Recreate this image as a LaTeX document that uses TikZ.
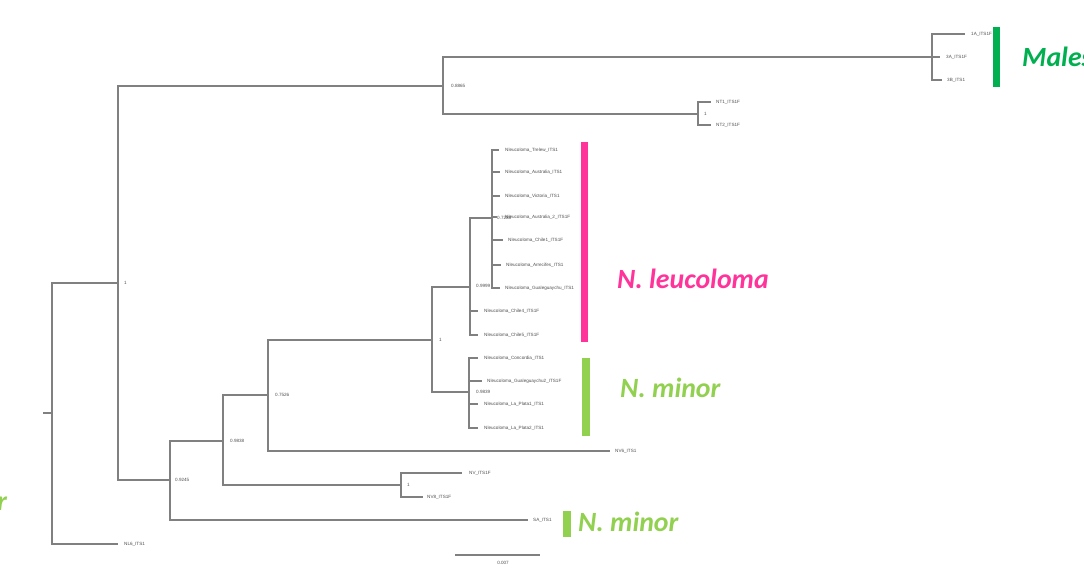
\documentclass[tikz,border=0pt]{standalone}
\usepackage{fontspec}
\setsansfont{Liberation Sans}
\newfontfamily\bigfont{Carlito}
\definecolor{brgray}{RGB}{128,128,128}
\definecolor{txgray}{RGB}{80,80,80}
\definecolor{hotpink}{RGB}{255,51,153}
\definecolor{darkgrn}{RGB}{0,176,80}
\definecolor{litegrn}{RGB}{146,208,80}
\tikzset{
  br/.style={draw=brgray, line width=1.1pt},
  leaf/.style={anchor=west, inner sep=0pt, text=txgray, font=\sffamily\fontsize{4.6}{5}\selectfont},
  nlab/.style={anchor=west, inner sep=0pt, text=txgray, font=\sffamily\fontsize{4.6}{5}\selectfont},
  big/.style={anchor=base west, inner sep=0pt, font=\bigfont\bfseries\itshape\fontsize{27.8}{30}\selectfont}
}
\begin{document}
\begin{tikzpicture}[x=1pt,y=-1pt]
\useasboundingbox (0,0) rectangle (1084,585);
\clip (0,0) rectangle (1084,585);
\fill[white] (0,0) rectangle (1084,585);
% internal nodes
\coordinate (rs) at (43,413);
\coordinate (r) at (52,413);
\coordinate (n1) at (118,283);
\coordinate (n2) at (443,86);
\coordinate (nM) at (932,57);
\coordinate (nT) at (698,114);
\coordinate (n3) at (170,480);
\coordinate (n4) at (223,441);
\coordinate (n5) at (268,395);
\coordinate (n6) at (432,340);
\coordinate (n7) at (470,287);
\coordinate (n8) at (492,218);
\coordinate (n9) at (469,392);
\coordinate (nV) at (401,485);
% tips
\coordinate (tNL6) at (118,544);
\coordinate (t1A) at (965,34);
\coordinate (t3A) at (940,57);
\coordinate (t3B) at (942,80);
\coordinate (tNT1) at (711,102);
\coordinate (tNT2) at (711,125);
\coordinate (tTre) at (499,150);
\coordinate (tAus) at (500,172);
\coordinate (tVic) at (500,196);
\coordinate (tAu2) at (497,217);
\coordinate (tCh1) at (503,240);
\coordinate (tArr) at (501,265);
\coordinate (tGua) at (500,288);
\coordinate (tCh4) at (478,311);
\coordinate (tCh5) at (478,335);
\coordinate (tCon) at (478,358);
\coordinate (tGu2) at (482,381);
\coordinate (tLP1) at (478,404);
\coordinate (tLP2) at (478,428);
\coordinate (tNV6) at (610,451);
\coordinate (tNV) at (462,473);
\coordinate (tNV8) at (423,497);
\coordinate (tSA) at (528,520);
% branches
\draw[br] (rs) -- (r);
\draw[br] (r) |- (n1);
\draw[br] (r) |- (tNL6);
\draw[br] (n1) |- (n2);
\draw[br] (n1) |- (n3);
\draw[br] (n2) |- (nM);
\draw[br] (n2) |- (nT);
\draw[br] (nM) |- (t1A);
\draw[br] (nM) |- (t3A);
\draw[br] (nM) |- (t3B);
\draw[br] (nT) |- (tNT1);
\draw[br] (nT) |- (tNT2);
\draw[br] (n3) |- (n4);
\draw[br] (n3) |- (tSA);
\draw[br] (n4) |- (n5);
\draw[br] (n4) |- (nV);
\draw[br] (nV) |- (tNV);
\draw[br] (nV) |- (tNV8);
\draw[br] (n5) |- (n6);
\draw[br] (n5) |- (tNV6);
\draw[br] (n6) |- (n7);
\draw[br] (n6) |- (n9);
\draw[br] (n7) |- (n8);
\draw[br] (n7) |- (tCh4);
\draw[br] (n7) |- (tCh5);
\draw[br] (n8) |- (tTre);
\draw[br] (n8) |- (tAus);
\draw[br] (n8) |- (tVic);
\draw[br] (n8) |- (tAu2);
\draw[br] (n8) |- (tCh1);
\draw[br] (n8) |- (tArr);
\draw[br] (n8) |- (tGua);
\draw[br] (n9) |- (tCon);
\draw[br] (n9) |- (tGu2);
\draw[br] (n9) |- (tLP1);
\draw[br] (n9) |- (tLP2);
% node labels
\node[nlab] (l1) at ([xshift=6pt]n1) {1};
\node[nlab] (l2) at ([xshift=8pt]n2) {0.8865};
\node[nlab] (lT) at ([xshift=6pt]nT) {1};
\node[nlab] (l3) at ([xshift=5pt]n3) {0.9245};
\node[nlab] (l4) at ([xshift=7pt]n4) {0.9838};
\node[nlab] (l5) at ([xshift=7pt]n5) {0.7526};
\node[nlab] (l6) at ([xshift=7pt]n6) {1};
\node[nlab] (l7) at ([xshift=6pt,yshift=1pt]n7) {0.9999};
\node[nlab] (l8) at ([xshift=5pt]n8) {0.7288};
\node[nlab] (l9) at ([xshift=7pt]n9) {0.9839};
\node[nlab] (lV) at ([xshift=6pt]nV) {1};
% leaf labels
\node[leaf] (LNL6) at ([xshift=6pt]tNL6) {NL6\_ITS1};
\node[leaf] (L1A) at ([xshift=6pt]t1A) {1A\_ITS1F};
\node[leaf] (L3A) at ([xshift=6pt]t3A) {3A\_ITS1F};
\node[leaf] (L3B) at ([xshift=5pt]t3B) {3B\_ITS1};
\node[leaf] (LNT1) at ([xshift=5pt]tNT1) {NT1\_ITS1F};
\node[leaf] (LNT2) at ([xshift=5pt]tNT2) {NT2\_ITS1F};
\node[leaf] (LTre) at ([xshift=6pt]tTre) {Nleucoloma\_Trelew\_ITS1};
\node[leaf] (LAus) at ([xshift=5pt]tAus) {Nleucoloma\_Australia\_ITS1};
\node[leaf] (LVic) at ([xshift=5pt]tVic) {Nleucoloma\_Victoria\_ITS1};
\node[leaf] (LAu2) at ([xshift=8pt]tAu2) {Nleucoloma\_Australia\_2\_ITS1F};
\node[leaf] (LCh1) at ([xshift=5pt]tCh1) {Nleucoloma\_Chile1\_ITS1F};
\node[leaf] (LArr) at ([xshift=5pt]tArr) {Nleucoloma\_Arrecifes\_ITS1};
\node[leaf] (LGua) at ([xshift=5pt]tGua) {Nleucoloma\_Gualeguaychu\_ITS1};
\node[leaf] (LCh4) at ([xshift=6pt]tCh4) {Nleucoloma\_Chile4\_ITS1F};
\node[leaf] (LCh5) at ([xshift=6pt]tCh5) {Nleucoloma\_Chile5\_ITS1F};
\node[leaf] (LCon) at ([xshift=6pt]tCon) {Nleucoloma\_Concordia\_ITS1};
\node[leaf] (LGu2) at ([xshift=5pt]tGu2) {Nleucoloma\_Gualeguaychu2\_ITS1F};
\node[leaf] (LLP1) at ([xshift=6pt]tLP1) {Nleucoloma\_La\_Plata1\_ITS1};
\node[leaf] (LLP2) at ([xshift=6pt]tLP2) {Nleucoloma\_La\_Plata2\_ITS1};
\node[leaf] (LNV6) at ([xshift=5pt]tNV6) {NV6\_ITS1};
\node[leaf] (LNV) at ([xshift=7pt]tNV) {NV\_ITS1F};
\node[leaf] (LNV8) at ([xshift=4pt]tNV8) {NV8\_ITS1F};
\node[leaf] (LSA) at ([xshift=5pt]tSA) {SA\_ITS1};
% clade bars
\fill[darkgrn] (993,27) rectangle (1000,87);
\fill[hotpink] (581,142) rectangle (588,342);
\fill[litegrn] (582,358) rectangle (590,436);
\fill[litegrn] (563,511) rectangle (571,537);
% clade names
\node[big, text=darkgrn] (tMales) at (1022,67) {Males};
\node[big, text=hotpink] (tLeu) at (617,289) {N. leucoloma};
\node[big, text=litegrn] (tMin1) at (620,397) {N. minor};
\node[big, text=litegrn] (tMin2) at (578,531) {N. minor};
\node[big, text=litegrn, anchor=base east] (tMin0) at (7,510) {N. minor};
% scale bar
\coordinate (sb1) at (455,555);
\coordinate (sb2) at (540,555);
\draw[br] (sb1) -- (sb2);
\node[nlab, anchor=center] (sbl) at (503,563) {0.007};
\end{tikzpicture}
\end{document}
